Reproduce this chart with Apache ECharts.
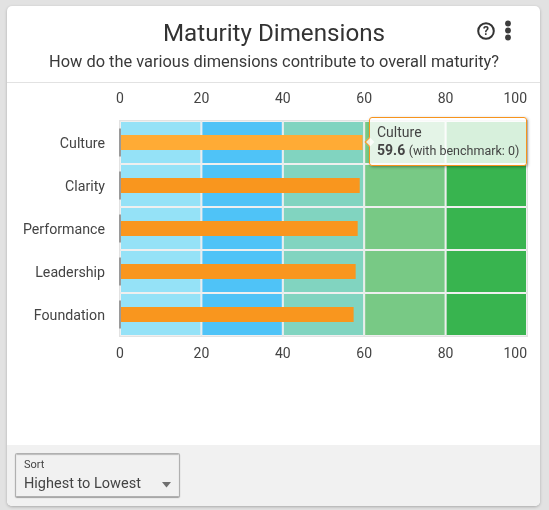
<!DOCTYPE html>
<html>
<head>
<meta charset="utf-8">
<style>html,body{margin:0;padding:0;background:#e2e2e2}#chart{width:549px;height:510px}</style>
<script src="https://cdn.jsdelivr.net/npm/echarts@6/dist/echarts.min.js"></script>
</head>
<body>
<div id="chart"></div>
<script>
// Maturity score per dimension, sorted highest to lowest
const dimensions = ['Culture', 'Clarity', 'Performance', 'Leadership', 'Foundation'];
const scores = [59.6, 58.9, 58.4, 57.9, 57.4];
const benchmarks = [0, 0, 0, 0, 0];

// Qualitative ranges stacked behind the score bars
const bandWidths = [20, 20, 20, 20, 20];
const bandColors = ['#95e2f7', '#4fc3f7', '#81d4c0', '#78c985', '#38b44f'];
const axisTicks = { min: 0, max: 100, interval: 20 };

const titleText = 'Maturity Dimensions';
const subtitleText = 'How do the various dimensions contribute to overall maturity?';
const sortLabel = 'Sort';
const sortValue = 'Highest to Lowest';

const FONT = 'Roboto, sans-serif';
const INK = '#444444';

const chart = echarts.init(document.getElementById('chart'), null, { renderer: 'canvas' });

const valueAxis = (position, margin) => ({
  type: 'value',
  position,
  min: axisTicks.min,
  max: axisTicks.max,
  interval: axisTicks.interval,
  axisLine: { show: false },
  axisTick: { show: false },
  splitLine: { show: false },
  axisLabel: { color: INK, fontSize: 14, fontFamily: FONT, margin, alignMaxLabel: 'right' }
});

const bandSeries = bandWidths.map((w, i) => ({
  type: 'bar',
  stack: 'bands',
  xAxisIndex: 0,
  yAxisIndex: 0,
  barCategoryGap: 0,
  silent: true,
  tooltip: { show: false },
  data: dimensions.map(() => w),
  itemStyle: { color: bandColors[i], borderColor: '#efefef', borderWidth: 1 },
  emphasis: { disabled: true },
  z: 1
}));

const option = {
  animation: false,
  backgroundColor: '#e2e2e2',
  textStyle: { fontFamily: FONT },
  title: [
    { text: titleText, left: 269, top: 18, textAlign: 'center',
      textStyle: { fontFamily: FONT, fontSize: 24.2, fontWeight: 400, color: '#333' } },
    { text: subtitleText, left: 269, top: 50, textAlign: 'center',
      textStyle: { fontFamily: FONT, fontSize: 16.4, fontWeight: 400, color: '#3a3a3a' } }
  ],
  grid: {
    show: true, left: 120, top: 121, width: 407, height: 215,
    backgroundColor: '#efefef', borderColor: '#e2e2e2', borderWidth: 2
  },
  xAxis: [valueAxis('top', 14.5), valueAxis('bottom', 11.5)],
  yAxis: [
    {
      type: 'category', inverse: true, data: dimensions,
      axisLine: { show: false }, axisTick: { show: false },
      axisLabel: { color: INK, fontSize: 14.2, fontFamily: FONT, margin: 15, verticalAlign: 'top', lineHeight: 3 }
    },
    {
      type: 'category', inverse: true, data: dimensions, show: false
    }
  ],
  tooltip: {
    trigger: 'item',
    position: 'right',
    backgroundColor: 'rgba(255,255,255,0.8)',
    borderColor: '#f7941d',
    borderWidth: 1,
    padding: [5, 7],
    extraCssText: 'margin-left:-4px;margin-top:-1px;border-radius:3px;box-shadow:1px 1px 3px rgba(0,0,0,.35);',
    textStyle: { color: INK, fontFamily: FONT, fontSize: 14 },
    formatter: (p) =>
      `<div style="line-height:18px">${p.name}<br><b style="font-weight:700">${p.value}</b> ` +
      `<span style="font-size:12.5px">(with benchmark: ${benchmarks[p.dataIndex]})</span></div>`
  },
  series: [
    ...bandSeries,
    {
      type: 'bar',
      name: 'Score',
      xAxisIndex: 0,
      yAxisIndex: 1,
      barWidth: 15,
      data: scores,
      itemStyle: { color: '#f9961e' },
      emphasis: { itemStyle: { color: '#ffab35' } },
      z: 3
    },
    {
      type: 'scatter',
      name: 'Benchmark',
      xAxisIndex: 0,
      yAxisIndex: 0,
      symbol: 'rect',
      symbolSize: [2, 28],
      silent: true,
      tooltip: { show: false },
      data: benchmarks,
      encode: { x: 0 },
      itemStyle: { color: '#9a9a9a', opacity: 1 },
      z: 4
    }
  ],
  graphic: [
    // Card, header rule and footer strip
    { type: 'rect', z: -10, shape: { x: 7, y: 6, width: 533, height: 500, r: 5 },
      style: { fill: '#fff', shadowBlur: 3, shadowColor: 'rgba(0,0,0,0.25)', shadowOffsetY: 1 } },
    { type: 'rect', z: -9, shape: { x: 7, y: 82, width: 533, height: 1 }, style: { fill: '#e2e2e2' } },
    { type: 'rect', z: -9, shape: { x: 7, y: 445, width: 533, height: 61, r: [0, 0, 5, 5] }, style: { fill: '#f1f1f1' } },

    // Help and overflow menu icons
    { type: 'circle', shape: { cx: 486, cy: 31, r: 7.8 }, style: { fill: 'none', stroke: '#333', lineWidth: 2 } },
    { type: 'text', style: { x: 486, y: 31.5, text: '?', align: 'center', verticalAlign: 'middle',
        font: '700 12px Roboto, sans-serif', fill: '#333' } },
    { type: 'circle', shape: { cx: 508, cy: 23.5, r: 2.9 }, style: { fill: '#3c3c3c' } },
    { type: 'circle', shape: { cx: 508, cy: 30.5, r: 2.9 }, style: { fill: '#3c3c3c' } },
    { type: 'circle', shape: { cx: 508, cy: 37.5, r: 2.9 }, style: { fill: '#3c3c3c' } },

    // Sort selector
    { type: 'rect', shape: { x: 15.5, y: 453.5, width: 164, height: 43, r: 1 },
      style: { fill: '#f1f1f1', stroke: '#b0b0b0', lineWidth: 1, shadowBlur: 1, shadowColor: 'rgba(0,0,0,0.25)', shadowOffsetY: 1 } },
    { type: 'text', style: { x: 24, y: 465.5, text: sortLabel, verticalAlign: 'middle',
        font: '400 11px Roboto, sans-serif', fill: '#444' } },
    { type: 'text', style: { x: 24, y: 484, text: sortValue, verticalAlign: 'middle',
        font: '400 14.5px Roboto, sans-serif', fill: '#444' } },
    { type: 'polygon', shape: { points: [[162, 482], [171, 482], [166.5, 487.5]] }, style: { fill: '#6f6f6f' } }
  ]
};

chart.setOption(option);

// Culture is the active row: lighter bar and its tooltip
const scoreSeriesIndex = bandSeries.length;
chart.dispatchAction({ type: 'highlight', seriesIndex: scoreSeriesIndex, dataIndex: 0 });
chart.dispatchAction({ type: 'showTip', seriesIndex: scoreSeriesIndex, dataIndex: 0 });
</script>
</body>
</html>
